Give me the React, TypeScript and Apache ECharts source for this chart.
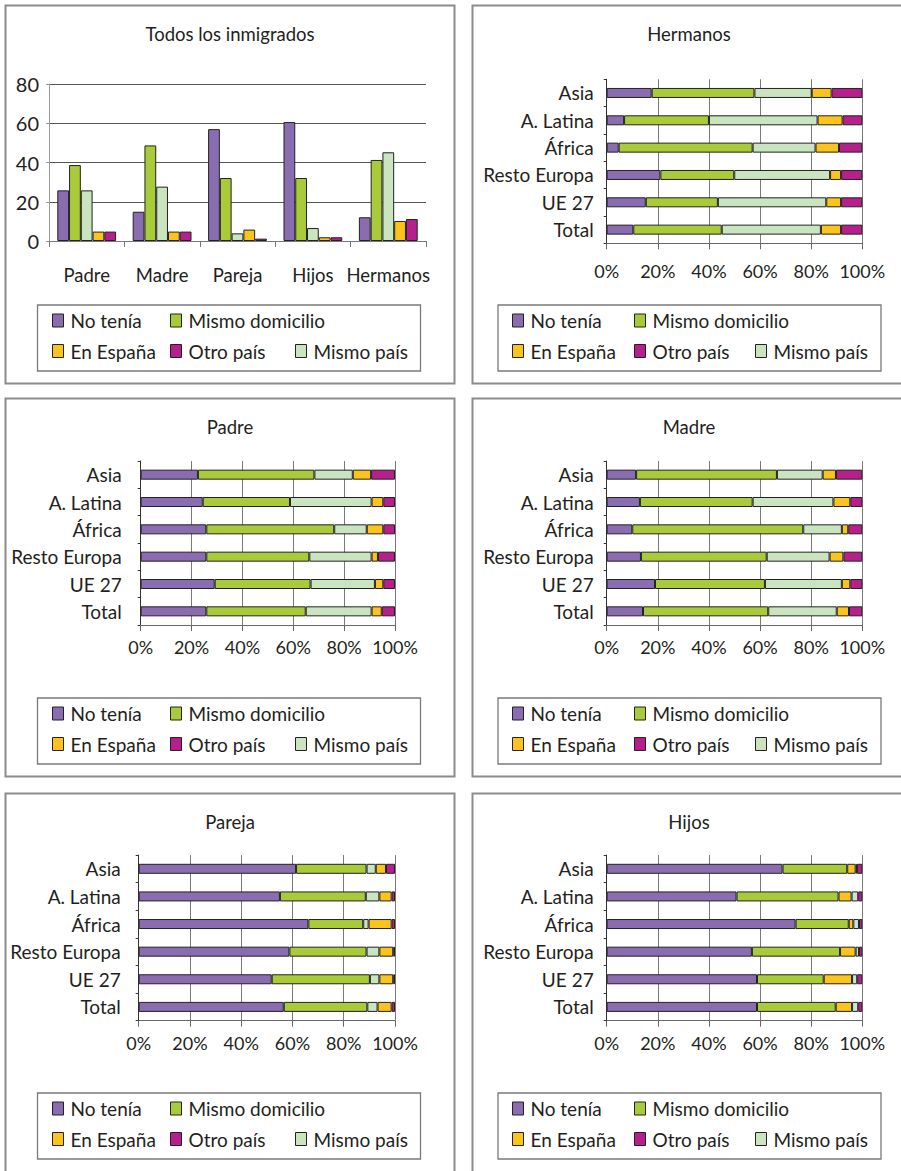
import React, { useEffect, useRef } from 'react';
import * as echarts from 'echarts';

// ---------- DATA ----------
const relatives = ['Padre', 'Madre', 'Pareja', 'Hijos', 'Hermanos'];
const allNoTenia = [25.8, 14.9, 57.0, 60.6, 12.1];
const allMismoDomicilio = [38.7, 48.7, 32.1, 32.1, 41.3];
const allMismoPais = [25.8, 27.7, 3.9, 6.6, 45.2];
const allEnEspana = [4.8, 4.8, 5.8, 1.9, 10.2];
const allOtroPais = [4.8, 4.8, 1.2, 1.9, 11.2];

const regions = ['Asia', 'A. Latina', 'África', 'Resto Europa', 'UE 27', 'Total'];
const percentTicks = [0, 20, 40, 60, 80, 100];
const countTicks = [0, 20, 40, 60, 80];

const hermanosNoTenia = [17.6, 6.8, 4.7, 21.0, 15.3, 10.4];
const hermanosMismoDomicilio = [40.2, 33.2, 52.4, 28.9, 28.2, 34.6];
const hermanosMismoPais = [22.4, 42.5, 24.6, 37.5, 42.4, 38.8];
const hermanosEnEspana = [7.8, 9.8, 9.2, 4.3, 5.8, 7.9];
const hermanosOtroPais = [12.0, 7.7, 9.1, 8.3, 8.3, 8.3];

const padreNoTenia = [22.5, 24.4, 25.8, 25.8, 29.1, 25.8];
const padreMismoDomicilio = [45.8, 34.3, 50.3, 40.5, 37.7, 39.1];
const padreMismoPais = [15.1, 32.1, 12.8, 24.5, 25.3, 25.9];
const padreEnEspana = [7.2, 4.6, 6.5, 2.5, 3.3, 4.0];
const padreOtroPais = [9.4, 4.6, 4.6, 6.7, 4.6, 5.2];

const madreNoTenia = [11.5, 13.0, 10.0, 13.4, 18.9, 14.2];
const madreMismoDomicilio = [55.1, 44.1, 66.9, 49.2, 43.0, 49.0];
const madreMismoPais = [17.9, 31.6, 15.1, 24.6, 30.1, 26.8];
const madreEnEspana = [5.2, 6.6, 2.5, 5.4, 3.3, 4.8];
const madreOtroPais = [10.3, 4.7, 5.5, 7.4, 4.7, 5.2];

const parejaNoTenia = [61.4, 55.1, 66.2, 58.8, 51.9, 56.6];
const parejaMismoDomicilio = [27.5, 33.5, 21.4, 30.1, 38.3, 32.6];
const parejaMismoPais = [3.6, 5.3, 2.1, 5.0, 3.7, 4.0];
const parejaEnEspana = [4.0, 4.8, 9.0, 5.4, 5.4, 5.5];
const parejaOtroPais = [3.5, 1.3, 1.3, 0.7, 0.7, 1.3];

const hijosNoTenia = [68.8, 50.8, 73.9, 56.8, 58.8, 58.8];
const hijosMismoDomicilio = [25.3, 39.9, 20.8, 34.5, 26.1, 30.8];
const hijosEnEspana = [3.3, 5.1, 1.8, 6.1, 11.1, 6.4];
const hijosMismoPais = [0.5, 2.6, 2.2, 1.3, 2.0, 2.4];
const hijosOtroPais = [2.1, 1.6, 1.3, 1.3, 2.0, 1.6];

// ---------- STYLE ----------
const FONT = 'Lato, "Open Sans", sans-serif';
const TXT = '#231f20';
const N = {
  noTenia: 'No tenía',
  mismoDomicilio: 'Mismo domicilio',
  mismoPais: 'Mismo país',
  enEspana: 'En España',
  otroPais: 'Otro país',
};
const C = {
  noTenia: '#8a6db1',
  mismoDomicilio: '#a9cb39',
  mismoPais: '#c9e4bf',
  mismoPaisCyan: '#c9e5e3',
  enEspana: '#fbc31b',
  otroPais: '#b7208c',
};

type Def = { name: string; data: number[]; color: string };

const stackPanels: { title: string; defs: Def[] }[] = [
  {
    title: 'Hermanos',
    defs: [
      { name: N.noTenia, data: hermanosNoTenia, color: C.noTenia },
      { name: N.mismoDomicilio, data: hermanosMismoDomicilio, color: C.mismoDomicilio },
      { name: N.mismoPais, data: hermanosMismoPais, color: C.mismoPais },
      { name: N.enEspana, data: hermanosEnEspana, color: C.enEspana },
      { name: N.otroPais, data: hermanosOtroPais, color: C.otroPais },
    ],
  },
  {
    title: 'Padre',
    defs: [
      { name: N.noTenia, data: padreNoTenia, color: C.noTenia },
      { name: N.mismoDomicilio, data: padreMismoDomicilio, color: C.mismoDomicilio },
      { name: N.mismoPais, data: padreMismoPais, color: C.mismoPais },
      { name: N.enEspana, data: padreEnEspana, color: C.enEspana },
      { name: N.otroPais, data: padreOtroPais, color: C.otroPais },
    ],
  },
  {
    title: 'Madre',
    defs: [
      { name: N.noTenia, data: madreNoTenia, color: C.noTenia },
      { name: N.mismoDomicilio, data: madreMismoDomicilio, color: C.mismoDomicilio },
      { name: N.mismoPais, data: madreMismoPais, color: C.mismoPais },
      { name: N.enEspana, data: madreEnEspana, color: C.enEspana },
      { name: N.otroPais, data: madreOtroPais, color: C.otroPais },
    ],
  },
  {
    title: 'Pareja',
    defs: [
      { name: N.noTenia, data: parejaNoTenia, color: C.noTenia },
      { name: N.mismoDomicilio, data: parejaMismoDomicilio, color: C.mismoDomicilio },
      { name: N.mismoPais, data: parejaMismoPais, color: C.mismoPais },
      { name: N.enEspana, data: parejaEnEspana, color: C.enEspana },
      { name: N.otroPais, data: parejaOtroPais, color: C.otroPais },
    ],
  },
  {
    title: 'Hijos',
    defs: [
      { name: N.noTenia, data: hijosNoTenia, color: C.noTenia },
      { name: N.mismoDomicilio, data: hijosMismoDomicilio, color: C.mismoDomicilio },
      { name: N.enEspana, data: hijosEnEspana, color: C.enEspana },
      { name: N.mismoPais, data: hijosMismoPais, color: C.mismoPaisCyan },
      { name: N.otroPais, data: hijosOtroPais, color: C.otroPais },
    ],
  },
];

// layout of the six panels (top-left corner of each frame)
const panelPos = [
  { x: 5, y: 5, side: 'left' },
  { x: 472, y: 5, side: 'right' },
  { x: 5, y: 398, side: 'left' },
  { x: 472, y: 398, side: 'right' },
  { x: 5, y: 793, side: 'left' },
  { x: 472, y: 793, side: 'right' },
];
const stackGrids = [
  { left: 606.7, top: 79.3, width: 255.6, height: 164, margin: 19, yMargin: 13 },
  { left: 140.7, top: 461, width: 254.3, height: 164, margin: 13, yMargin: 19 },
  { left: 606.7, top: 461, width: 255.6, height: 164, margin: 13, yMargin: 13 },
  { left: 138.7, top: 855, width: 256.3, height: 165.7, margin: 13, yMargin: 18 },
  { left: 606.7, top: 855, width: 255.6, height: 165.7, margin: 13, yMargin: 13 },
];

function buildOption() {
  const grid: any[] = [{ left: 49, top: 84, width: 377, height: 157, outerBoundsMode: 'none' }];
  const xAxis: any[] = [
    {
      type: 'category',
      gridIndex: 0,
      data: relatives,
      axisLine: { show: true, lineStyle: { color: '#777', width: 1 } },
      axisTick: { show: true, length: 6, lineStyle: { color: '#777' } },
      axisLabel: { fontSize: 18.5, color: TXT, fontFamily: FONT, margin: 24, interval: 0, hideOverlap: false },
      splitLine: { show: false },
    },
  ];
  const yAxis: any[] = [
    {
      type: 'value',
      gridIndex: 0,
      min: countTicks[0],
      max: countTicks[countTicks.length - 1],
      interval: 20,
      axisLine: { show: true, lineStyle: { color: '#999', width: 1 } },
      axisTick: { show: true, length: 3, lineStyle: { color: '#999' } },
      axisLabel: { fontSize: 20, color: TXT, fontFamily: FONT, margin: 10 },
      splitLine: { show: true, lineStyle: { color: '#555', width: 1 } },
    },
  ];
  const series: any[] = [
    { name: N.noTenia, data: allNoTenia, color: C.noTenia },
    { name: N.mismoDomicilio, data: allMismoDomicilio, color: C.mismoDomicilio },
    { name: N.mismoPais, data: allMismoPais, color: C.mismoPais },
    { name: N.enEspana, data: allEnEspana, color: C.enEspana },
    { name: N.otroPais, data: allOtroPais, color: C.otroPais },
  ].map((d) => ({
    type: 'bar',
    name: d.name,
    data: d.data,
    xAxisIndex: 0,
    yAxisIndex: 0,
    barGap: '0%',
    barCategoryGap: '22%',
    itemStyle: { color: d.color, borderColor: '#222', borderWidth: 1 },
  }));

  stackPanels.forEach((p, i) => {
    const g = stackGrids[i];
    const idx = i + 1;
    grid.push({ left: g.left, top: g.top, width: g.width, height: g.height, outerBoundsMode: 'none' });
    xAxis.push({
      type: 'value',
      gridIndex: idx,
      min: percentTicks[0],
      max: percentTicks[percentTicks.length - 1],
      interval: 20,
      axisLine: { show: true, lineStyle: { color: '#666', width: 1 } },
      axisTick: { show: true, length: 6, lineStyle: { color: '#666' } },
      axisLabel: { fontSize: 18, color: TXT, fontFamily: FONT, margin: g.margin, formatter: '{value}%' },
      splitLine: { show: true, lineStyle: { color: '#7a7a7a', width: 1 } },
    });
    yAxis.push({
      type: 'category',
      gridIndex: idx,
      data: regions,
      inverse: true,
      axisLine: { show: true, lineStyle: { color: '#333', width: 1 } },
      axisTick: { show: true, length: 3, lineStyle: { color: '#333' } },
      axisLabel: { fontSize: 19, color: TXT, fontFamily: FONT, margin: g.yMargin, interval: 0 },
      splitLine: { show: false },
    });
    p.defs.forEach((d) => {
      series.push({
        type: 'bar',
        name: d.name,
        data: d.data,
        stack: 'panel' + idx,
        xAxisIndex: idx,
        yAxisIndex: idx,
        barWidth: 10,
        itemStyle: { color: d.color, borderColor: '#222', borderWidth: 1 },
      });
    });
  });

  // graphic: frames, titles, legend boxes
  const titles = ['Todos los inmigrados', ...stackPanels.map((p) => p.title)];
  const graphic: any[] = [];
  panelPos.forEach((pp, i) => {
    const isLeft = pp.side === 'left';
    const w = isLeft ? 449 : 600;
    const h = pp.y > 700 ? 600 : 378;
    graphic.push({
      type: 'rect',
      shape: { x: pp.x + 0.5, y: pp.y + 0.5, width: w, height: h },
      style: { fill: 'none', stroke: '#8c8c8c', lineWidth: 2 },
      silent: true,
    });
    graphic.push({
      type: 'text',
      x: isLeft ? 230 : 689,
      y: pp.y + 29,
      style: {
        text: titles[i],
        fontSize: 18.5,
        fontFamily: FONT,
        fill: TXT,
        align: 'center',
        verticalAlign: 'middle',
        textAlign: 'center',
        textVerticalAlign: 'middle',
      },
      silent: true,
    });
    const bx = isLeft ? 37.5 : 498;
    graphic.push({
      type: 'rect',
      shape: { x: bx, y: pp.y + 300, width: 383, height: 66 },
      style: { fill: 'none', stroke: '#7a7a7a', lineWidth: 1.3 },
      silent: true,
    });
  });

  // legends: each item individually placed to align columns
  const legendCols: Record<string, number[]> = { left: [52, 170, 295], right: [512, 634, 755] };
  const legendItems: [string, number, number][] = [
    [N.noTenia, 0, 0],
    [N.mismoDomicilio, 1, 0],
    [N.enEspana, 0, 1],
    [N.otroPais, 1, 1],
    [N.mismoPais, 2, 1],
  ];
  const legend: any[] = [];
  panelPos.forEach((pp) => {
    const cols = legendCols[pp.side];
    legendItems.forEach(([name, col, row]) => {
      const cy = pp.y + (row === 0 ? 315.5 : 346);
      legend.push({
        show: true,
        data: [name],
        left: cols[col],
        top: cy - 9.5,
        padding: 0,
        itemGap: 0,
        itemWidth: 11,
        itemHeight: 13,
        icon: 'rect',
        selectedMode: false,
        itemStyle: { borderColor: '#222', borderWidth: 1 },
        textStyle: { fontSize: 19, color: TXT, fontFamily: FONT, lineHeight: 19, padding: [0, 0, 0, 2] },
      });
    });
  });

  return {
    animation: false,
    backgroundColor: '#ffffff',
    grid,
    xAxis,
    yAxis,
    series,
    legend,
    graphic,
    tooltip: { show: false },
  };
}

export default function App() {
  const ref = useRef<HTMLDivElement>(null);
  useEffect(() => {
    if (!ref.current) return;
    const chart = echarts.init(ref.current, null, { renderer: 'svg' });
    chart.setOption(buildOption() as any);
    return () => chart.dispose();
  }, []);
  return (
    <div style={{ position: 'absolute', left: 0, top: 0, width: 901, height: 1171, overflow: 'hidden', background: '#fff' }}>
      <div ref={ref} style={{ width: 901, height: 1171 }} />
    </div>
  );
}
